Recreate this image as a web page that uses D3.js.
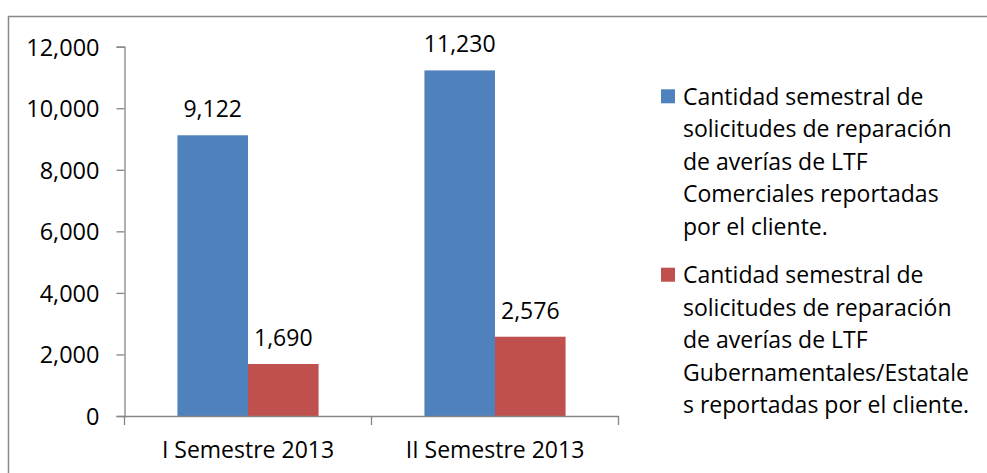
<!DOCTYPE html>
<html>
<head>
<meta charset="utf-8">
<script src="https://cdn.jsdelivr.net/npm/d3@7"></script>
<style>
  html, body { margin: 0; padding: 0; background: #fff; }
  svg { display: block; }
  text { font-family: "Open Sans", sans-serif; fill: #000; }
</style>
</head>
<body>
<svg id="chart" width="987" height="473"></svg>
<script>
const categories = ["I Semestre 2013", "II Semestre 2013"];
const seriesNames = [
  ["Cantidad semestral de", "solicitudes de reparación", "de averías de LTF", "Comerciales reportadas", "por el cliente."],
  ["Cantidad semestral de", "solicitudes de reparación", "de averías de LTF", "Gubernamentales/Estatale", "s reportadas por el cliente."]
];
const comerciales = [9122, 11230];
const gubernamentales = [1690, 2576];
const yTicks = [0, 2000, 4000, 6000, 8000, 10000, 12000];
const colors = ["#4F81BD", "#C0504D"];
const series = [comerciales, gubernamentales];

const svg = d3.select("#chart");
const fs = 23;
const fmt = d3.format(",");

// outer border (top and left visible)
svg.append("rect")
  .attr("x", 8.5).attr("y", 16.5)
  .attr("width", 1200).attr("height", 1000)
  .attr("fill", "none").attr("stroke", "#898989").attr("stroke-width", 1.5);

const plot = { left: 124.5, right: 618.5, top: 46.7, bottom: 416 };

const x = d3.scaleBand().domain(categories).range([plot.left, plot.right]).padding(0);
const y = d3.scaleLinear().domain([0, 12000]).range([plot.bottom, plot.top]);

// bars: gap width 150% => band = 3.5 bar widths
const barW = x.bandwidth() / 3.5;
const xs = d3.scaleBand().domain([0, 1]).range([0.75 * barW, 2.75 * barW]).padding(0);

categories.forEach((c, i) => {
  series.forEach((s, k) => {
    const bx = x(c) + xs(k);
    svg.append("rect")
      .attr("x", bx).attr("y", y(s[i]))
      .attr("width", xs.bandwidth()).attr("height", y(0) - y(s[i]))
      .attr("fill", colors[k]);
    svg.append("text")
      .attr("x", bx + xs.bandwidth() / 2)
      .attr("y", y(s[i]) - 18)
      .attr("text-anchor", "middle")
      .attr("font-size", fs)
      .text(fmt(s[i]));
  });
});

// y axis
const yAxis = d3.axisLeft(y).tickValues(yTicks).tickFormat(fmt).tickSize(8).tickPadding(17);
const gy = svg.append("g").attr("transform", `translate(${plot.left},0)`).call(yAxis);
gy.select(".domain").attr("stroke", "#868686").attr("stroke-width", 1.3);
gy.selectAll(".tick line").attr("stroke", "#868686").attr("stroke-width", 1.3);
gy.selectAll(".tick text")
  .attr("font-family", "Open Sans, sans-serif")
  .attr("font-size", 23.5).attr("fill", "#000").attr("dy", "0.36em");

// x axis
const gx = svg.append("g").attr("transform", `translate(0,${plot.bottom})`)
  .call(d3.axisBottom(x).tickSize(0).tickSizeOuter(0).tickPadding(26));
gx.select(".domain").attr("stroke", "#868686").attr("stroke-width", 1.3);
gx.selectAll(".tick text")
  .attr("font-family", "Open Sans, sans-serif")
  .attr("font-size", fs).attr("fill", "#000");
// category boundary ticks
const bounds = [plot.left, plot.left + x.bandwidth(), plot.right];
svg.append("g").selectAll("line").data(bounds).join("line")
  .attr("x1", d => d).attr("x2", d => d)
  .attr("y1", plot.bottom).attr("y2", plot.bottom + 9)
  .attr("stroke", "#868686").attr("stroke-width", 1.3);

// legend
const legendTop = [89.3, 267.7];
const lineH = 32.5;
seriesNames.forEach((lines, k) => {
  const g = svg.append("g");
  g.append("rect")
    .attr("x", 661).attr("y", legendTop[k])
    .attr("width", 14).attr("height", 14)
    .attr("fill", colors[k]);
  lines.forEach((ln, j) => {
    g.append("text")
      .attr("x", 683)
      .attr("y", legendTop[k] + 15.5 + j * lineH)
      .attr("font-size", fs)
      .text(ln);
  });
});
</script>
</body>
</html>
